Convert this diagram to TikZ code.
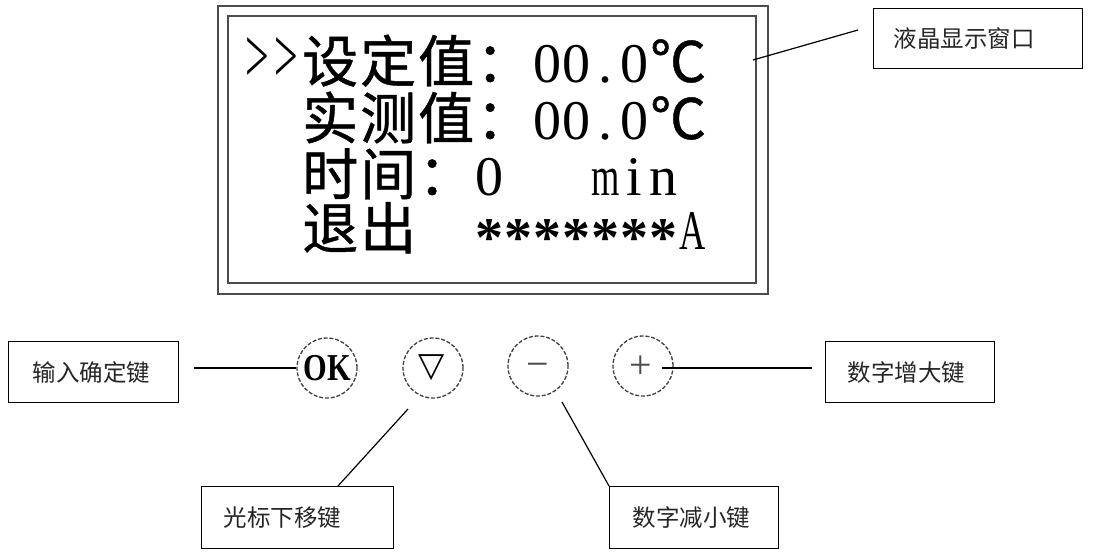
\documentclass[tikz,border=0pt]{standalone}
\usepackage{graphicx}
\usepackage{fontspec}
\setmainfont{Liberation Serif}
\newfontfamily\cjk{Noto Sans CJK SC}
\newfontfamily\cjkb{Noto Sans CJK SC}[FakeBold=0.8]
\newfontfamily\dejavu{DejaVu Sans}
\newcommand\hw[1]{\makebox[29pt][c]{#1}}
\newcommand\fw[1]{\makebox[58pt][c]{\cjkb #1}}
\newcommand\nx[1]{\makebox[29pt][c]{\scalebox{0.65}[1]{#1}}}
\newcommand\st{\makebox[29pt][c]{\raisebox{-7pt}{\bfseries *}}}
\begin{document}
\begin{tikzpicture}[x=1pt,y=-1pt,
  frame/.style={draw=black!70, line width=1.6pt},
  lcdtext/.style={anchor=base west, inner sep=0pt, font=\fontsize{56}{60}\selectfont},
  lbl/.style={draw, line width=1.2pt, anchor=north west, align=left, inner ysep=0pt,
    font=\cjk\fontsize{23.5}{28}\selectfont, text=black!85},
  key/.style={circle, draw=black!75, dash pattern=on 4pt off 1.8pt, line width=1.3pt,
    minimum size=60pt, inner sep=0pt},
  keytext/.style={inner sep=0pt},
  lead/.style={draw, line width=1.2pt}]
\useasboundingbox[fill=white] (0,0) rectangle (1099,551);

% LCD frame
\draw[frame] (218,6) rectangle (768,294);
\draw[frame] (228,16) rectangle (756,283);

% LCD text
\node[lcdtext] (l1) at (243,82) {\hw{\scalebox{0.75}[1.4]{>}}\hw{\scalebox{0.75}[1.4]{>}}\fw{设}\fw{定}\fw{值}\fw{：}\hw{0}\hw{0}\hw{.}\hw{0}\fw{℃}};
\node[lcdtext] (l2) at (301,139) {\fw{实}\fw{测}\fw{值}\fw{：}\hw{0}\hw{0}\hw{.}\hw{0}\fw{℃}};
\node[lcdtext] (l3) at (301,195) {\fw{时}\fw{间}\fw{：}\hw{0}\hw{}\hw{}\hw{}\nx{m}\hw{i}\hw{n}};
\node[lcdtext] (l4) at (301,249) {\fw{退}\fw{出}\hw{}\hw{}\st\st\st\st\st\st\st\nx{A}};

% keys
\node[key] (ok) at (327,368) {};
\node[key] (down) at (433,368) {};
\node[key] (minus) at (538,366) {};
\node[key] (plus) at (643,366) {};
\node[keytext, font=\fontsize{38}{38}\selectfont\bfseries] at (ok.center) {\scalebox{0.8}[1]{OK}};
\node[keytext, font=\dejavu\fontsize{34}{34}\selectfont] at (432,368) {▽};
\node[keytext, font=\fontsize{40}{40}\selectfont, text=black!70] at (538,370) {−};
\node[keytext, font=\fontsize{40}{40}\selectfont, text=black!70] at (641,367) {+};

% labels
\node[lbl, minimum height=60pt, text width=169pt, inner xsep=20pt] (lcdlbl) at (873,8) {液晶显示窗口};
\node[lbl, minimum height=61pt, text width=122pt, inner xsep=24pt] (oklbl) at (8,341) {输入确定键};
\node[lbl, minimum height=62pt, text width=148pt, inner xsep=22pt] (curlbl) at (201,486) {光标下移键};
\node[lbl, minimum height=62pt, text width=123pt, inner xsep=23pt] (declbl) at (609,486) {数字减小键};
\node[lbl, minimum height=61pt, text width=125pt, inner xsep=22pt] (inclbl) at (825,341) {数字增大键};

% connectors
\coordinate (lcdp) at (753,60);
\coordinate (lcde) at (858,30);
\coordinate (oke) at (194,368);
\coordinate (dn1) at (408,409);
\coordinate (dn2) at (338,486);
\coordinate (mi1) at (562,402);
\coordinate (pl1) at (662,368);
\coordinate (pl2) at (812,368);
\draw[lead] (lcdp) -- (lcde);
\draw[lead] (oke) -- (ok.west);
\draw[lead] (dn1) -- (dn2);
\draw[lead] (mi1) -- (declbl.north west);
\draw[lead] (pl1) -- (pl2);
\end{tikzpicture}
\end{document}
